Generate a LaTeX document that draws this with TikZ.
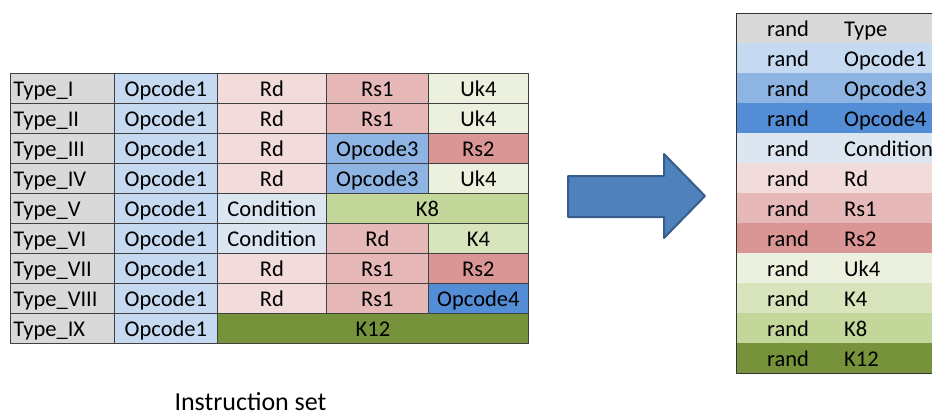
\documentclass[tikz,border=0pt]{standalone}
\usepackage{fontspec}
\setmainfont{Carlito}
\definecolor{cType}{HTML}{D9D9D9}
\definecolor{cOpa}{HTML}{C5D9F1}
\definecolor{cOpc}{HTML}{8DB4E2}
\definecolor{cOpd}{HTML}{538DD5}
\definecolor{cCond}{HTML}{DCE6F1}
\definecolor{cRd}{HTML}{F2DCDB}
\definecolor{cRsa}{HTML}{E6B8B7}
\definecolor{cRsb}{HTML}{DA9694}
\definecolor{cUk}{HTML}{EBF1DE}
\definecolor{cKa}{HTML}{D8E4BC}
\definecolor{cKb}{HTML}{C4D79B}
\definecolor{cKc}{HTML}{76933C}
\definecolor{cArrow}{HTML}{4F81BD}
\definecolor{cArrowEdge}{HTML}{385D8A}
\begin{document}
\begin{tikzpicture}[x=1pt, y=-1pt, font=\fontsize{22.5}{27}\selectfont, line join=round,
	lbl/.style={inner sep=0pt, text height=19pt, text depth=3pt},
	cell/.style={lbl, draw=black!75, line width=0.8pt, anchor=north west, minimum height=30pt},
	tcell/.style={cell, fill=cType, inner xsep=3pt, text width=98pt, align=left}]
	\useasboundingbox (0,0) rectangle (932,415);
	\def\ca{10} \def\cb{114} \def\cc{217} \def\cd{326} \def\ce{428} % columns
	% instruction set
	\foreach \t [count=\i from 0] in {I,II,III,IV,V,VI,VII,VIII,IX}{
		\node[tcell] (type\i) at (\ca,{73+30*\i}) {Type\_\t};
		\node[cell, fill=cOpa, minimum width=103pt] (op\i) at (\cb,{73+30*\i}) {Opcode1};
	}
	\node[cell, fill=cRd, minimum width=109pt] (r0c3) at (\cc,73) {Rd};
	\node[cell, fill=cRsa, minimum width=102pt] (r0c4) at (\cd,73) {Rs1};
	\node[cell, fill=cUk, minimum width=100pt] (r0c5) at (\ce,73) {Uk4};
	\node[cell, fill=cRd, minimum width=109pt] (r1c3) at (\cc,103) {Rd};
	\node[cell, fill=cRsa, minimum width=102pt] (r1c4) at (\cd,103) {Rs1};
	\node[cell, fill=cUk, minimum width=100pt] (r1c5) at (\ce,103) {Uk4};
	\node[cell, fill=cRd, minimum width=109pt] (r2c3) at (\cc,133) {Rd};
	\node[cell, fill=cOpc, minimum width=102pt] (r2c4) at (\cd,133) {Opcode3};
	\node[cell, fill=cRsb, minimum width=100pt] (r2c5) at (\ce,133) {Rs2};
	\node[cell, fill=cRd, minimum width=109pt] (r3c3) at (\cc,163) {Rd};
	\node[cell, fill=cOpc, minimum width=102pt] (r3c4) at (\cd,163) {Opcode3};
	\node[cell, fill=cUk, minimum width=100pt] (r3c5) at (\ce,163) {Uk4};
	\node[cell, fill=cCond, minimum width=109pt] (r4c3) at (\cc,193) {Condition};
	\node[cell, fill=cKb, minimum width=202pt] (r4c4) at (\cd,193) {K8};
	\node[cell, fill=cCond, minimum width=109pt] (r5c3) at (\cc,223) {Condition};
	\node[cell, fill=cRsa, minimum width=102pt] (r5c4) at (\cd,223) {Rd};
	\node[cell, fill=cKa, minimum width=100pt] (r5c5) at (\ce,223) {K4};
	\node[cell, fill=cRd, minimum width=109pt] (r6c3) at (\cc,253) {Rd};
	\node[cell, fill=cRsa, minimum width=102pt] (r6c4) at (\cd,253) {Rs1};
	\node[cell, fill=cRsb, minimum width=100pt] (r6c5) at (\ce,253) {Rs2};
	\node[cell, fill=cRd, minimum width=109pt] (r7c3) at (\cc,283) {Rd};
	\node[cell, fill=cRsa, minimum width=102pt] (r7c4) at (\cd,283) {Rs1};
	\node[cell, fill=cOpd, minimum width=100pt] (r7c5) at (\ce,283) {Opcode4};
	\node[cell, fill=cKc, minimum width=311pt] (r8c3) at (\cc,313) {K12};
	\node[inner sep=0pt, anchor=base, font=\fontsize{26}{31}\selectfont] (caption) at (250.5,410) {Instruction set};
	% arrow
	\draw[fill=cArrow, draw=cArrowEdge, line width=2pt] (568,176) -- (664,176) -- (664,154) -- (705,196)
		-- (664,238) -- (664,217) -- (568,217) -- cycle;
	% fields
	\foreach \k/\col [count=\i from 0] in {Type/cType, Opcode1/cOpa, Opcode3/cOpc, Opcode4/cOpd,
		Condition/cCond, Rd/cRd, Rs1/cRsa, Rs2/cRsb, Uk4/cUk, K4/cKa, K8/cKb, K12/cKc}{
		\fill[\col] (736,{13+30*\i}) rectangle (932,{43+30*\i});
		\node[lbl] (rand\i) at (788,{28+30*\i}) {rand};
		\node[lbl, anchor=west] (key\i) at (844,{28+30*\i}) {\k};
	}
	\draw[black!80, line width=1pt] (932,13) -- (736,13) -- (736,373) -- (932,373);
\end{tikzpicture}
\end{document}
